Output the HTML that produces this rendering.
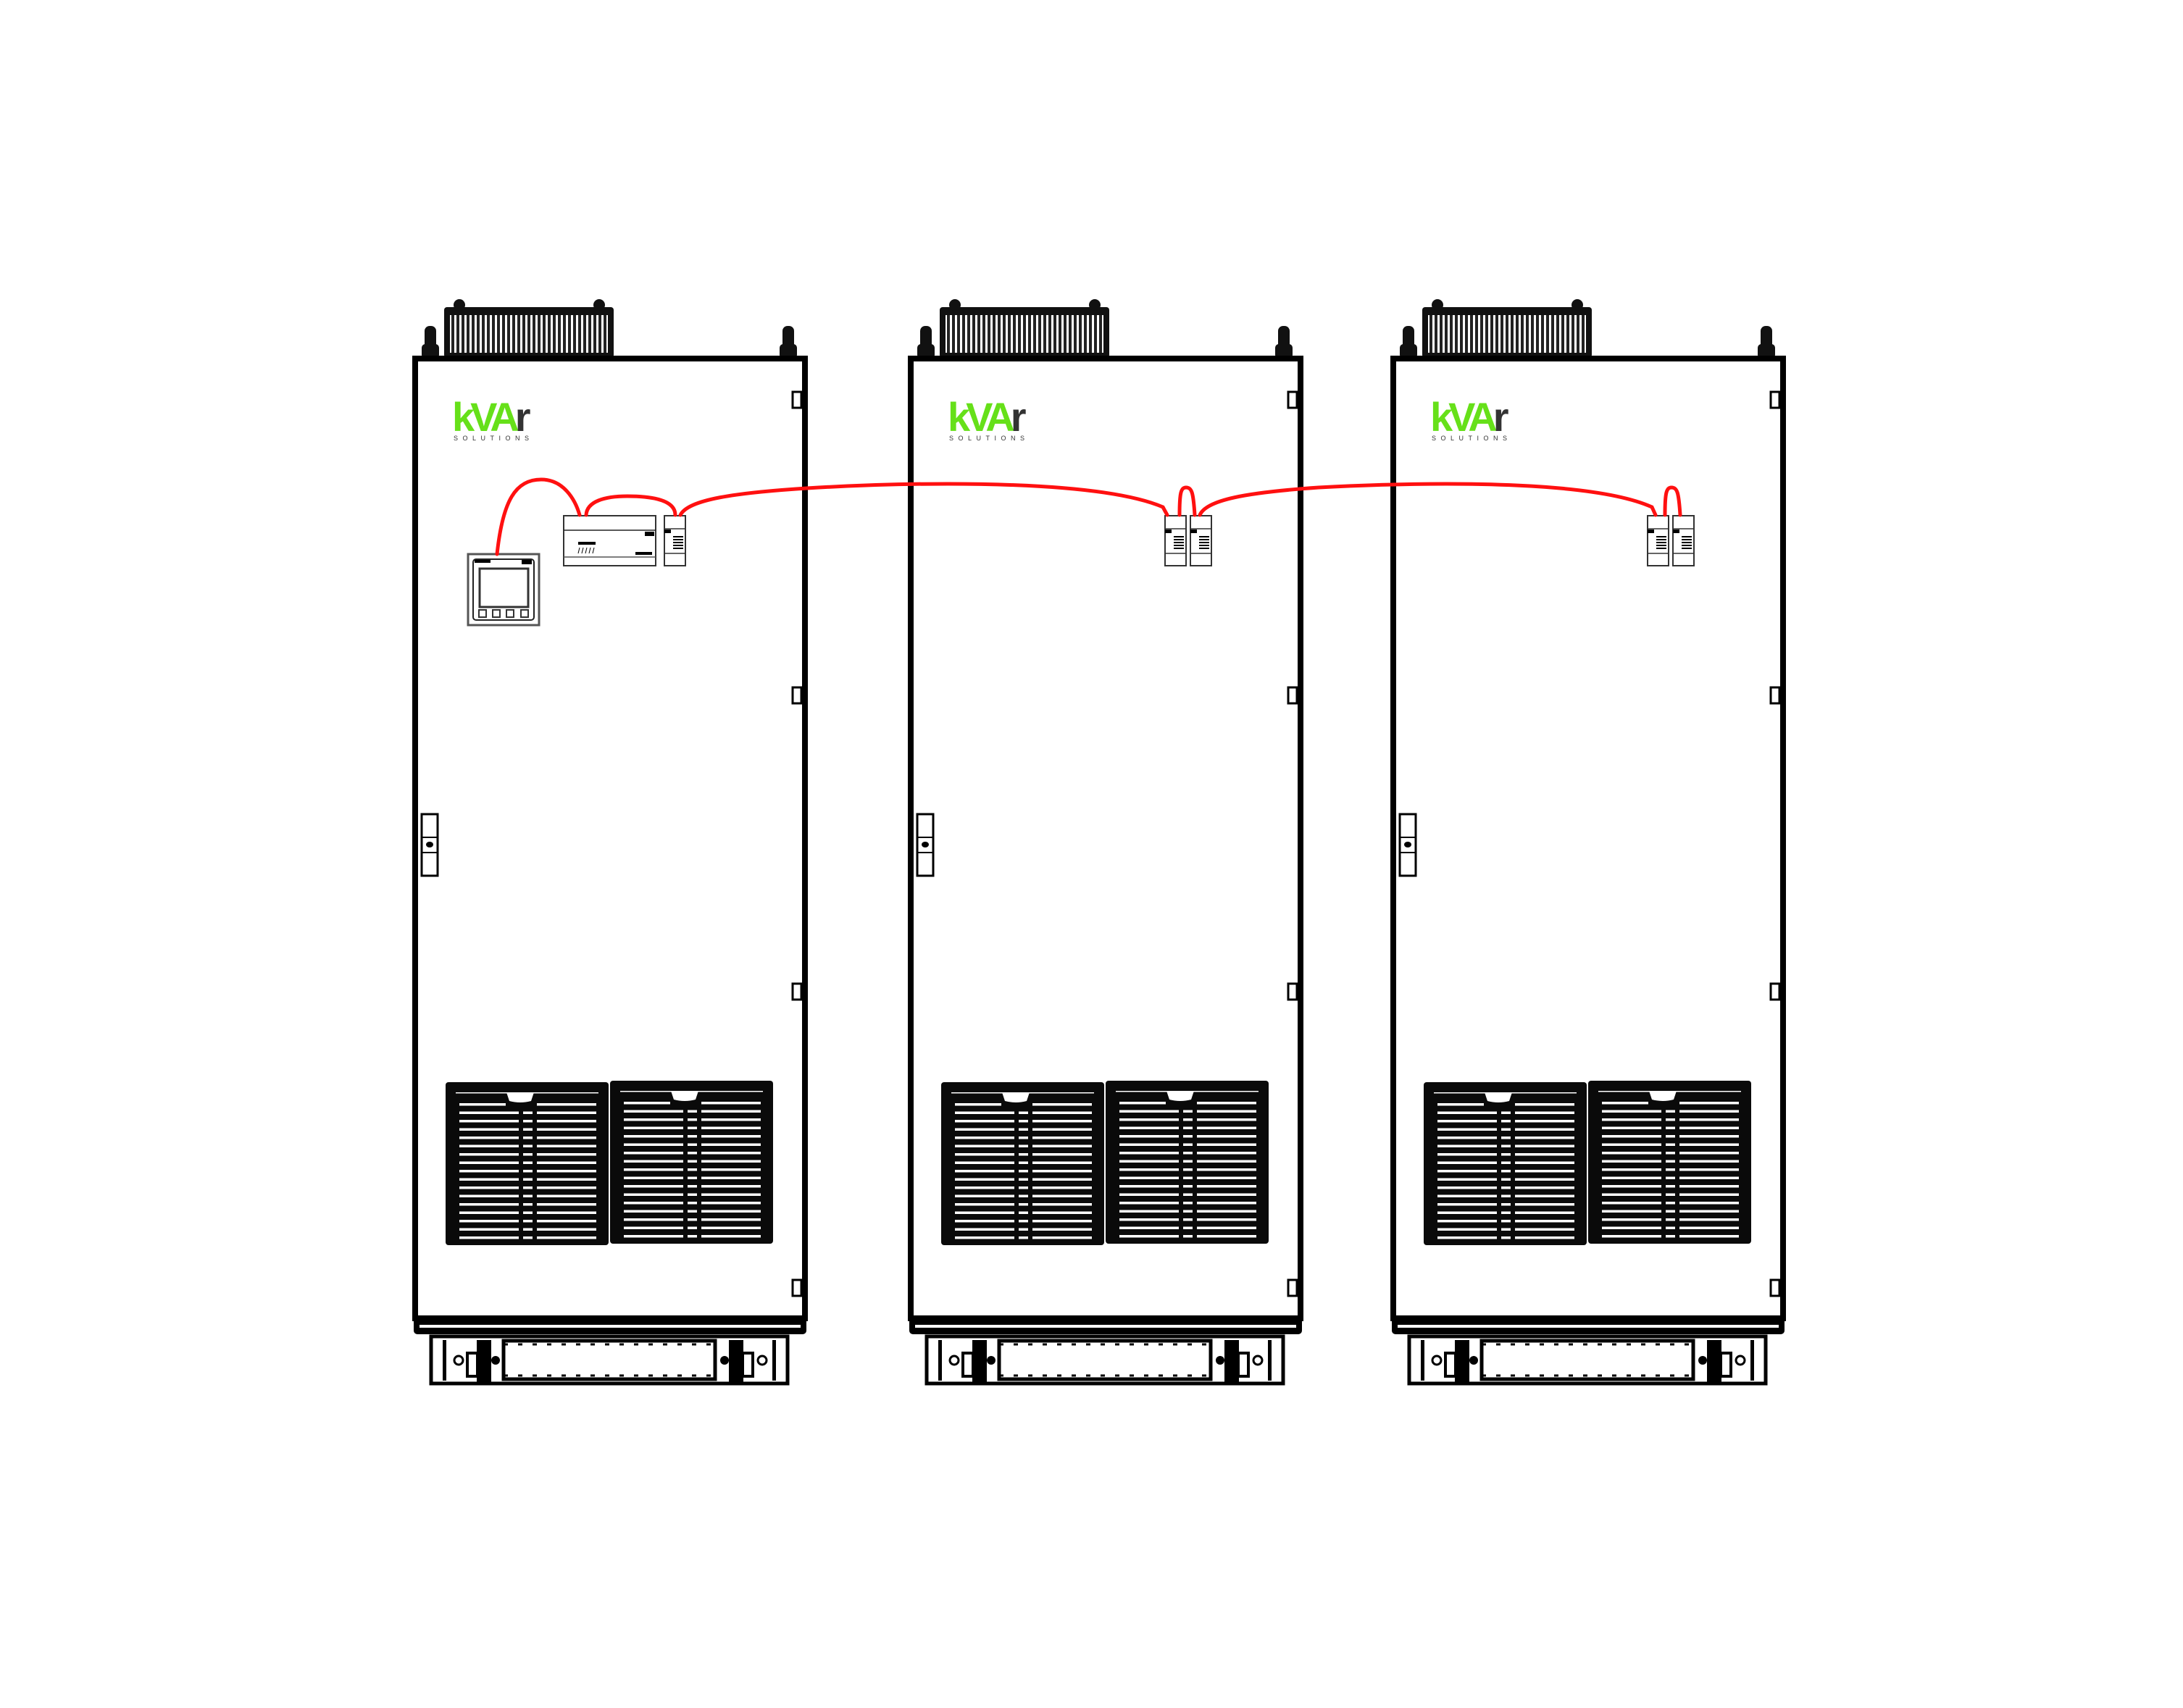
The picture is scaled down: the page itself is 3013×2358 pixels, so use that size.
<!DOCTYPE html>
<html><head><meta charset="utf-8"><style>
html,body{margin:0;padding:0;background:#fff}
svg{display:block}
</style></head><body>
<svg width="3013" height="2358" viewBox="0 0 3013 2358" xmlns="http://www.w3.org/2000/svg">
<defs>
<pattern id="fins" x="0" y="0" width="7" height="10" patternUnits="userSpaceOnUse">
<rect width="7" height="10" fill="#fff"/><rect x="0" y="0" width="4" height="10" fill="#222"/>
</pattern>
<g id="row">
<rect x="19" y="0" width="82" height="3.5"/><rect x="107" y="0" width="13" height="3.5"/><rect x="126" y="0" width="82" height="3.5"/>
</g>
<g id="panel">
<rect x="0" y="0" width="225" height="225" rx="4" fill="#0a0a0a"/>
<rect x="14" y="14" width="197" height="1.5" fill="#fff"/>
<path d="M84,14 h38 l-4,12 q-15,4 -30,0 z" fill="#fff"/>
<g fill="#fff">
<rect x="19" y="29" width="64" height="3.5"/><rect x="126" y="29" width="82" height="3.5"/>
<use href="#row" y="40.5"/><use href="#row" y="52"/><use href="#row" y="63.5"/><use href="#row" y="75"/>
<use href="#row" y="86.5"/><use href="#row" y="98"/><use href="#row" y="109.5"/><use href="#row" y="121"/>
<use href="#row" y="132.5"/><use href="#row" y="144"/><use href="#row" y="155.5"/><use href="#row" y="167"/>
<use href="#row" y="178.5"/><use href="#row" y="190"/><use href="#row" y="201.5"/><use href="#row" y="213"/>
</g>
</g>
<g id="smallmod">
<rect x="0" y="0" width="29" height="69" fill="#fff" stroke="#333" stroke-width="2"/>
<line x1="0" y1="18" x2="29" y2="18" stroke="#333" stroke-width="1.5"/>
<line x1="0" y1="52" x2="29" y2="52" stroke="#333" stroke-width="1.5"/>
<rect x="0" y="19" width="9" height="5" fill="#000"/>
<g fill="#000"><rect x="12" y="28" width="14" height="2"/><rect x="12" y="32" width="14" height="2"/><rect x="12" y="36" width="14" height="2"/><rect x="12" y="40" width="14" height="2"/><rect x="12" y="44" width="14" height="2"/></g>
</g>
<g id="cab">
<rect x="613" y="424" width="234" height="70" rx="4" fill="#111"/>
<rect x="621" y="435" width="218" height="52" fill="url(#fins)"/>
<circle cx="634" cy="421" r="8" fill="#111"/><circle cx="827" cy="421" r="8" fill="#111"/>
<rect x="586" y="450" width="16" height="52" rx="7" fill="#111"/><rect x="582" y="475" width="24" height="20" rx="5" fill="#111"/>
<rect x="1080" y="450" width="16" height="52" rx="7" fill="#111"/><rect x="1076" y="475" width="24" height="20" rx="5" fill="#111"/>
<rect x="573" y="495" width="538" height="1325" fill="#fff" stroke="#000" stroke-width="8"/>
<g fill="#fff" stroke="#000" stroke-width="3">
<rect x="1094" y="541" width="12" height="22"/><rect x="1094" y="949" width="12" height="22"/>
<rect x="1094" y="1358" width="12" height="22"/><rect x="1094" y="1767" width="12" height="22"/>
</g>
<rect x="582" y="1124" width="22" height="85" fill="#fff" stroke="#000" stroke-width="3"/>
<line x1="582" y1="1156" x2="604" y2="1156" stroke="#000" stroke-width="2"/>
<line x1="582" y1="1177" x2="604" y2="1177" stroke="#000" stroke-width="2"/>
<ellipse cx="593" cy="1166" rx="5" ry="4" fill="#000"/>
<text x="624" y="595" font-family="Liberation Sans, sans-serif" font-weight="bold" font-size="56" letter-spacing="-6" fill="#66e019">kVA<tspan fill="#333">r</tspan></text>
<text x="626" y="608" font-family="Liberation Sans, sans-serif" font-size="9" letter-spacing="6.5" fill="#333">SOLUTIONS</text>
<use href="#panel" x="615" y="1494"/>
<use href="#panel" x="842" y="1492"/>
<rect x="571" y="1818" width="542" height="24" rx="5" fill="#000"/>
<rect x="579" y="1829" width="526" height="4" fill="#fff"/>
<rect x="595" y="1845" width="492" height="65" fill="#fff" stroke="#000" stroke-width="5"/>
<rect x="695" y="1851" width="292" height="53" fill="#fff" stroke="#000" stroke-width="5"/>
<line x1="695" y1="1856" x2="987" y2="1856" stroke="#000" stroke-width="3" stroke-dasharray="6 14"/>
<line x1="695" y1="1899" x2="987" y2="1899" stroke="#000" stroke-width="3" stroke-dasharray="6 14"/>
<rect x="611" y="1850" width="5" height="56" fill="#000"/><rect x="1066" y="1850" width="5" height="56" fill="#000"/>
<rect x="658" y="1850" width="20" height="58" fill="#000"/><rect x="1006" y="1850" width="20" height="58" fill="#000"/>
<rect x="645" y="1868" width="14" height="32" fill="none" stroke="#000" stroke-width="4"/>
<rect x="1025" y="1868" width="14" height="32" fill="none" stroke="#000" stroke-width="4"/>
<circle cx="633" cy="1878" r="6" fill="#fff" stroke="#000" stroke-width="3"/>
<circle cx="1052" cy="1878" r="6" fill="#fff" stroke="#000" stroke-width="3"/>
<circle cx="684" cy="1878" r="6" fill="#000"/><circle cx="1000" cy="1878" r="6" fill="#000"/>
<use href="#smallmod" x="924" y="712"/>
<use href="#smallmod" x="959" y="712"/>
</g>
</defs>

<use href="#cab"/>
<use href="#cab" x="684"/>
<use href="#cab" x="1350"/>

<rect x="905" y="705" width="100" height="85" fill="#fff"/>
<rect x="646" y="765" width="98" height="98" fill="#fff" stroke="#555" stroke-width="3"/>
<rect x="653" y="772" width="84" height="84" rx="4" fill="#fff" stroke="#222" stroke-width="2"/>
<rect x="655" y="773" width="22" height="4" fill="#000"/><rect x="720" y="773" width="14" height="6" fill="#000"/>
<rect x="662" y="785" width="67" height="53" fill="#fff" stroke="#333" stroke-width="3"/>
<g fill="#fff" stroke="#333" stroke-width="2"><rect x="661" y="842" width="10" height="10"/><rect x="680" y="842" width="10" height="10"/><rect x="699" y="842" width="10" height="10"/><rect x="719" y="842" width="10" height="10"/></g>
<rect x="778" y="712" width="127" height="69" fill="#fff" stroke="#333" stroke-width="2"/>
<line x1="778" y1="732" x2="905" y2="732" stroke="#222" stroke-width="1.5"/>
<line x1="778" y1="769" x2="905" y2="769" stroke="#555" stroke-width="1.5"/>
<rect x="890" y="734" width="13" height="6" fill="#000"/>
<rect x="877" y="762" width="23" height="4" fill="#000"/>
<rect x="798" y="748" width="24" height="4" fill="#000"/>
<path d="M800,756 l-2,8 M805,756 l-2,8 M810,756 l-2,8 M815,756 l-2,8 M820,756 l-2,8" stroke="#000" stroke-width="1"/>
<use href="#smallmod" x="917" y="712"/>

<g fill="none" stroke="#ff1010" stroke-width="5" stroke-linecap="round">
<path d="M686,765 C694,690 712,662 747,662 C778,662 794,690 800,711"/>
<path d="M809,711 C810,692 835,685 866,685 C905,685 932,692 932,711"/>
<path d="M939,711 C950,690 1010,680 1130,673 C1300,664 1520,664 1605,700 L1611,711"/>
<path d="M1628,711 C1628,680 1630,673 1637,673 C1645,673 1647,680 1649,711"/>
<path d="M1656,711 C1665,690 1720,680 1820,673 C1990,664 2200,664 2280,700 L2285,711"/>
<path d="M2298,711 C2298,680 2300,673 2307,673 C2315,673 2317,680 2319,711"/>
</g>
</svg>
</body></html>
